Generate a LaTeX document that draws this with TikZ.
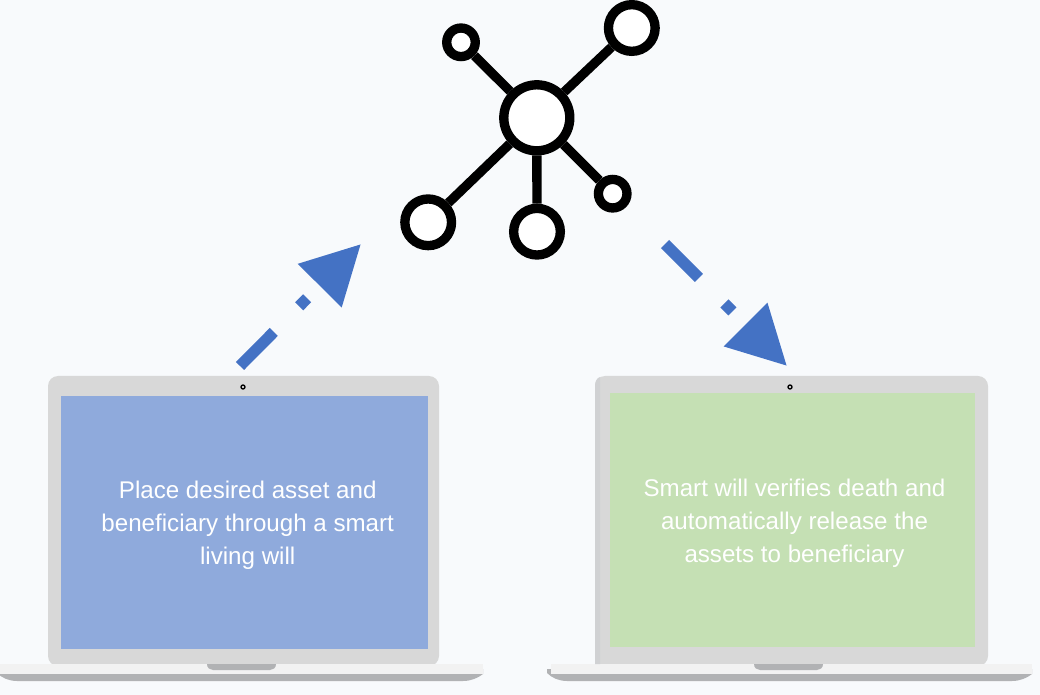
\documentclass[tikz,border=0pt]{standalone}
\usepackage{fontspec}
\setmainfont{Liberation Sans}
\usetikzlibrary{arrows.meta}
\definecolor{pagebg}{HTML}{F8FAFC}
\definecolor{body}{HTML}{D8D8D8}
\definecolor{bodyedge}{HTML}{D0D1D3}
\definecolor{deck}{HTML}{F2F2F2}
\definecolor{under}{HTML}{B1B2B4}
\definecolor{bluescreen}{HTML}{8FAADC}
\definecolor{greenscreen}{HTML}{C5E0B4}
\definecolor{arrowblue}{HTML}{4472C4}
\tikzset{
  x=0.75pt,y=-0.75pt,
  hubline/.style={line width=7pt},
  hubnode/.style={circle,draw=black,fill=white,line width=7pt,inner sep=0pt},
  flow/.style={draw=arrowblue,line width=8.5pt,dash pattern=on 36pt off 27pt on 8.5pt off 60pt,
    -{Triangle[length=44pt,width=44pt,fill=arrowblue]}},
  screentext/.style={text=white,font=\fontsize{18.1pt}{24.75pt}\selectfont,align=center},
  camera/.style={circle,draw=black,fill=body,line width=1pt,inner sep=0pt,minimum size=3pt}
}
\newcommand{\laptop}[6]{%
  % #1 body left, #2 body right, #3 base left, #4 base right, #5 notch left, #6 under left
  \fill[under] (#6,669) -- (#6,673) .. controls (#6+5,678) and (#6+12,681) .. (#6+20,681)
     -- (#4-20,681) .. controls (#4-12,681) and (#4-5,678) .. (#4,674) -- (#4,669) -- cycle;
  \fill[body,rounded corners=7.5pt] (#1,666) -- (#1,376) -- (#2,376) -- (#2,666) -- cycle;
  \fill[deck] (#3,664) rectangle (#4,674);
  \fill[under] (#5,664) -- (#5+69,664) .. controls (#5+69,668) and (#5+66,670) .. (#5+63,670)
     -- (#5+6,670) .. controls (#5+3,670) and (#5,668) .. (#5,664) -- cycle;
}
\begin{document}
\begin{tikzpicture}
\useasboundingbox (0,0) rectangle (1040,695);
\fill[pagebg] (0,0) rectangle (1040,695);
% laptops
\laptop{48}{439}{0}{483}{207}{-3}
\laptop{595}{988}{551}{1032}{754}{547}
\fill[bodyedge] (595,664) -- (595,386) .. controls (595,381) and (597,378) .. (600,377) -- (600,664) -- cycle;
\node[camera] (camL) at (243,387) {};
\node[camera] (camR) at (790,387) {};
\node[fill=bluescreen,minimum width=275.25pt,minimum height=189.75pt,inner sep=0pt] (scrL) at (244.5,522.5) {};
\node[fill=greenscreen,minimum width=273.75pt,minimum height=190.5pt,inner sep=0pt] (scrR) at (792.5,520) {};
\node[screentext] (txtL) at (247.7,525) {Place desired asset and\\beneficiary through a smart\\living will};
\node[screentext] (txtR) at (794.5,523) {Smart will verifies death and\\automatically release the\\assets to beneficiary};
% hub
\node[hubnode,minimum size=49.5pt] (hub) at (536.8,117.8) {};
\node[hubnode,minimum size=35pt] (s1) at (631.8,28) {};
\node[hubnode,minimum size=21.4pt] (s2) at (461,42.3) {};
\node[hubnode,minimum size=35pt] (s3) at (428.2,222.3) {};
\node[hubnode,minimum size=35pt] (s4) at (537,231.7) {};
\node[hubnode,minimum size=21.4pt] (s5) at (612.7,193.7) {};
\foreach \s in {s1,s2,s3,s4,s5} \draw[hubline] (hub) -- (\s);
% flows
\coordinate (fromL) at (240,366);
\coordinate (toHub) at (361,244);
\coordinate (fromHub) at (665,244);
\coordinate (toR) at (787,366);
\draw[flow] (fromL) -- (toHub);
\draw[flow] (fromHub) -- (toR);
\end{tikzpicture}
\end{document}
